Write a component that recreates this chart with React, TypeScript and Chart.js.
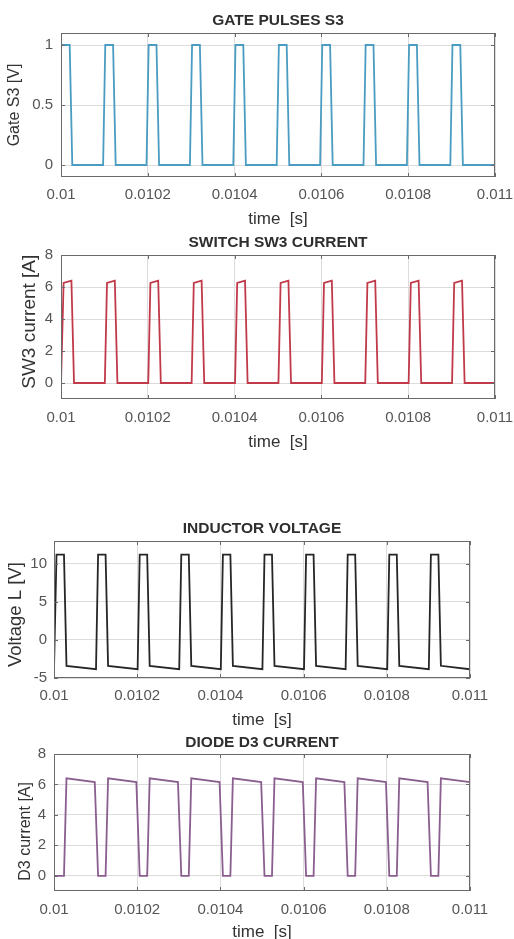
import { useEffect, useRef } from 'react';
import { Chart, registerables } from 'chart.js';

Chart.register(...registerables);

// ---------- data ----------
const xTickValues = [0.01, 0.0102, 0.0104, 0.0106, 0.0108, 0.011];
const xTickLabels = ['0.01', '0.0102', '0.0104', '0.0106', '0.0108', '0.011'];

const gateTime = [
  0.01, 0.01002, 0.010026,
  0.010097, 0.010102, 0.01012, 0.010126,
  0.010197, 0.010202, 0.01022, 0.010226,
  0.010297, 0.010302, 0.01032, 0.010326,
  0.010397, 0.010402, 0.01042, 0.010426,
  0.010497, 0.010502, 0.01052, 0.010526,
  0.010597, 0.010602, 0.01062, 0.010626,
  0.010697, 0.010702, 0.01072, 0.010726,
  0.010797, 0.010802, 0.01082, 0.010826,
  0.010897, 0.010902, 0.01092, 0.010926,
  0.011,
];
const gateValue = [
  1, 1, 0,
  0, 1, 1, 0,
  0, 1, 1, 0,
  0, 1, 1, 0,
  0, 1, 1, 0,
  0, 1, 1, 0,
  0, 1, 1, 0,
  0, 1, 1, 0,
  0, 1, 1, 0,
  0, 1, 1, 0,
  0,
];
const gateTicks = [0, 0.5, 1];
const gateTickLabels = ['0', '0.5', '1'];

const switchTime = [
  0.01, 0.010001, 0.010006, 0.010024, 0.01003,
  0.010101, 0.010106, 0.010124, 0.01013,
  0.010201, 0.010206, 0.010224, 0.01023,
  0.010301, 0.010306, 0.010324, 0.01033,
  0.010401, 0.010406, 0.010424, 0.01043,
  0.010501, 0.010506, 0.010524, 0.01053,
  0.010601, 0.010606, 0.010624, 0.01063,
  0.010701, 0.010706, 0.010724, 0.01073,
  0.010801, 0.010806, 0.010824, 0.01083,
  0.010901, 0.010906, 0.010924, 0.01093,
  0.011,
];
const switchCurrent = [
  0, 0, 6.25, 6.4, 0,
  0, 6.25, 6.4, 0,
  0, 6.25, 6.4, 0,
  0, 6.25, 6.4, 0,
  0, 6.25, 6.4, 0,
  0, 6.25, 6.4, 0,
  0, 6.25, 6.4, 0,
  0, 6.25, 6.4, 0,
  0, 6.25, 6.4, 0,
  0, 6.25, 6.4, 0,
  0,
];
const switchTicks = [0, 2, 4, 6, 8];
const switchTickLabels = ['0', '2', '4', '6', '8'];

const inductorTime = [
  0.01, 0.010001, 0.010006, 0.010024, 0.01003,
  0.010101, 0.010106, 0.010124, 0.01013,
  0.010201, 0.010206, 0.010224, 0.01023,
  0.010301, 0.010306, 0.010324, 0.01033,
  0.010401, 0.010406, 0.010424, 0.01043,
  0.010501, 0.010506, 0.010524, 0.01053,
  0.010601, 0.010606, 0.010624, 0.01063,
  0.010701, 0.010706, 0.010724, 0.01073,
  0.010801, 0.010806, 0.010824, 0.01083,
  0.010901, 0.010906, 0.010924, 0.01093,
  0.011,
];
const inductorVoltage = [
  -3.85, -3.85, 11.2, 11.2, -3.4,
  -3.85, 11.2, 11.2, -3.4,
  -3.85, 11.2, 11.2, -3.4,
  -3.85, 11.2, 11.2, -3.4,
  -3.85, 11.2, 11.2, -3.4,
  -3.85, 11.2, 11.2, -3.4,
  -3.85, 11.2, 11.2, -3.4,
  -3.85, 11.2, 11.2, -3.4,
  -3.85, 11.2, 11.2, -3.4,
  -3.85, 11.2, 11.2, -3.4,
  -3.85,
];
const inductorTicks = [-5, 0, 5, 10];
const inductorTickLabels = ['-5', '0', '5', '10'];

const diodeTime = [
  0.01, 0.010024, 0.01003,
  0.010098, 0.010106, 0.010124, 0.01013,
  0.010198, 0.010206, 0.010224, 0.01023,
  0.010298, 0.010306, 0.010324, 0.01033,
  0.010398, 0.010406, 0.010424, 0.01043,
  0.010498, 0.010506, 0.010524, 0.01053,
  0.010598, 0.010606, 0.010624, 0.01063,
  0.010698, 0.010706, 0.010724, 0.01073,
  0.010798, 0.010806, 0.010824, 0.01083,
  0.010898, 0.010906, 0.010924, 0.01093,
  0.011,
];
const diodeCurrent = [
  0, 0, 6.4,
  6.15, 0, 0, 6.4,
  6.15, 0, 0, 6.4,
  6.15, 0, 0, 6.4,
  6.15, 0, 0, 6.4,
  6.15, 0, 0, 6.4,
  6.15, 0, 0, 6.4,
  6.15, 0, 0, 6.4,
  6.15, 0, 0, 6.4,
  6.15, 0, 0, 6.4,
  6.15,
];
const diodeTicks = [0, 2, 4, 6, 8];
const diodeTickLabels = ['0', '2', '4', '6', '8'];

// ---------- layout / style ----------
const FONT = "'Liberation Sans', Arial, Helvetica, sans-serif";
const W = 514;

type Spec = {
  title: string;
  yLabel: string;
  time: number[];
  values: number[];
  yTicks: number[];
  yTickLabels: string[];
  yMin: number;
  yMax: number;
  color: string;
  L: number; R: number; T: number; B: number;
  titleY: number; xTickY: number; xLabelY: number; yLabelX: number; yTickRight: number;
  yLabelSize: number;
};

const specs: Spec[] = [
  {
    title: 'GATE PULSES S3', yLabel: 'Gate S3 [V]', time: gateTime, values: gateValue,
    yTicks: gateTicks, yTickLabels: gateTickLabels, yMin: -0.1, yMax: 1.1, color: '#4a9cc2',
    L: 61, R: 495, T: 33, B: 177, titleY: 21, xTickY: 195, xLabelY: 219, yLabelX: 15, yTickRight: 53, yLabelSize: 16,
  },
  {
    title: 'SWITCH SW3 CURRENT', yLabel: '  SW3 current [A]', time: switchTime, values: switchCurrent,
    yTicks: switchTicks, yTickLabels: switchTickLabels, yMin: -1, yMax: 8, color: '#c03a4a',
    L: 61, R: 495, T: 255, B: 399, titleY: 243, xTickY: 417.5, xLabelY: 442.5, yLabelX: 30, yTickRight: 53, yLabelSize: 19,
  },
  {
    title: 'INDUCTOR VOLTAGE', yLabel: 'Voltage L [V]  ', time: inductorTime, values: inductorVoltage,
    yTicks: inductorTicks, yTickLabels: inductorTickLabels, yMin: -5, yMax: 13, color: '#262626',
    L: 54, R: 470, T: 541, B: 678, titleY: 529, xTickY: 696, xLabelY: 720.5, yLabelX: 15.5, yTickRight: 47, yLabelSize: 18.5,
  },
  {
    title: 'DIODE D3 CURRENT', yLabel: 'D3 current [A]    ', time: diodeTime, values: diodeCurrent,
    yTicks: diodeTicks, yTickLabels: diodeTickLabels, yMin: -1, yMax: 8, color: '#8a5e8f',
    L: 54, R: 470, T: 754, B: 891, titleY: 742.5, xTickY: 910, xLabelY: 932, yLabelX: 25.7, yTickRight: 46, yLabelSize: 16,
  },
];

const TITLE_SIZE = 15.5;
const TICK_SIZE = 15;
const XLABEL_SIZE = 17;

function geometry(s: Spec) {
  const tLH = TITLE_SIZE * 1.2;
  const canvasTop = Math.floor(s.titleY - tLH / 2);
  const titlePadTop = s.titleY - tLH / 2 - canvasTop;
  const titlePadBottom = s.T - canvasTop - tLH - titlePadTop;
  const xLH = XLABEL_SIZE * 1.2;
  const canvasBottom = Math.ceil(s.xLabelY + xLH / 2 + 1);
  const xLabelPadBottom = canvasBottom - xLH / 2 - s.xLabelY;
  const xTickPad = s.xTickY - s.B - (TICK_SIZE * 1.2) / 2;
  const yLH = s.yLabelSize * 1.2;
  const yLabelPadTop = s.yLabelX - yLH / 2;
  const yTickPad = s.L - s.yTickRight;
  return {
    canvasTop, height: canvasBottom - canvasTop, titlePadTop, titlePadBottom,
    xLabelPadBottom, xTickPad, yLabelPadTop, yTickPad, xAxisHeight: canvasBottom - s.B,
  };
}

const framePlugin = {
  id: 'matlabFrame',
  afterDatasetsDraw(chart: any) {
    const { ctx, chartArea, scales } = chart;
    const { left, right, top, bottom } = chartArea;
    ctx.save();
    ctx.strokeStyle = '#6a6a6a';
    ctx.lineWidth = 1;
    ctx.strokeRect(left + 0.5, top + 0.5, right - left - 1, bottom - top - 1);
    const tl = 4;
    ctx.beginPath();
    scales.x.ticks.forEach((t: any) => {
      const px = Math.round(scales.x.getPixelForValue(t.value)) + 0.5;
      ctx.moveTo(px, bottom); ctx.lineTo(px, bottom - tl);
      ctx.moveTo(px, top); ctx.lineTo(px, top + tl);
    });
    scales.y.ticks.forEach((t: any) => {
      const py = Math.round(scales.y.getPixelForValue(t.value)) + 0.5;
      ctx.moveTo(left, py); ctx.lineTo(left + tl, py);
      ctx.moveTo(right, py); ctx.lineTo(right - tl, py);
    });
    ctx.stroke();
    ctx.restore();
  },
};

function makeConfig(s: Spec): any {
  const g = geometry(s);
  return {
    type: 'line',
    data: {
      datasets: [
        {
          data: s.time.map((t, i) => ({ x: t, y: s.values[i] })),
          borderColor: s.color,
          borderWidth: 1.8,
          pointRadius: 0,
          tension: 0,
          fill: false,
        },
      ],
    },
    options: {
      responsive: false,
      animation: false,
      devicePixelRatio: 1,
      layout: { padding: { left: 0, right: W - s.R, top: 0, bottom: 0 } },
      plugins: {
        legend: { display: false },
        tooltip: { enabled: false },
        title: {
          display: true,
          fullSize: false,
          text: s.title,
          color: '#2e2e2e',
          font: { family: FONT, size: TITLE_SIZE, weight: 'bold' },
          padding: { top: g.titlePadTop, bottom: g.titlePadBottom },
        },
      },
      scales: {
        x: {
          type: 'linear',
          min: 0.01,
          max: 0.011,
          border: { display: false },
          grid: { color: '#dcdcdc', drawTicks: false, lineWidth: 1 },
          afterBuildTicks: (scale: any) => {
            scale.ticks = xTickValues.map((v) => ({ value: v }));
          },
          afterFit: (scale: any) => {
            scale.height = g.xAxisHeight;
            scale.paddingLeft = 0;
            scale.paddingRight = 0;
          },
          ticks: {
            autoSkip: false,
            maxRotation: 0,
            minRotation: 0,
            padding: g.xTickPad,
            color: '#555555',
            font: { family: FONT, size: TICK_SIZE },
            callback: (_v: any, i: number) => xTickLabels[i],
          },
          title: {
            display: true,
            text: 'time  [s]',
            color: '#333333',
            font: { family: FONT, size: XLABEL_SIZE },
            padding: { top: 0, bottom: g.xLabelPadBottom },
          },
        },
        y: {
          type: 'linear',
          min: s.yMin,
          max: s.yMax,
          border: { display: false },
          grid: { color: '#dcdcdc', drawTicks: false, lineWidth: 1 },
          afterBuildTicks: (scale: any) => {
            scale.ticks = s.yTicks.map((v) => ({ value: v }));
          },
          afterFit: (scale: any) => {
            scale.width = s.L;
            scale.paddingTop = 0;
            scale.paddingBottom = 0;
          },
          ticks: {
            padding: g.yTickPad,
            color: '#555555',
            font: { family: FONT, size: TICK_SIZE },
            callback: (_v: any, i: number) => s.yTickLabels[i],
          },
          title: {
            display: true,
            text: s.yLabel,
            color: '#333333',
            font: { family: FONT, size: s.yLabelSize },
            padding: { top: g.yLabelPadTop, bottom: 0 },
          },
        },
      },
    },
    plugins: [framePlugin],
  };
}

function Plot({ spec }: { spec: Spec }) {
  const ref = useRef<HTMLCanvasElement | null>(null);
  const g = geometry(spec);
  useEffect(() => {
    if (!ref.current) return;
    const chart = new Chart(ref.current, makeConfig(spec));
    return () => chart.destroy();
  }, [spec]);
  return (
    <canvas
      ref={ref}
      width={W}
      height={g.height}
      style={{ position: 'absolute', left: 0, top: g.canvasTop, width: W, height: g.height, display: 'block' }}
    />
  );
}

export default function App() {
  return (
    <div
      style={{
        position: 'fixed',
        left: 0,
        top: 0,
        width: W,
        height: 939,
        overflow: 'hidden',
        background: '#ffffff',
      }}
    >
      {specs.map((s) => (
        <Plot key={s.title} spec={s} />
      ))}
    </div>
  );
}
